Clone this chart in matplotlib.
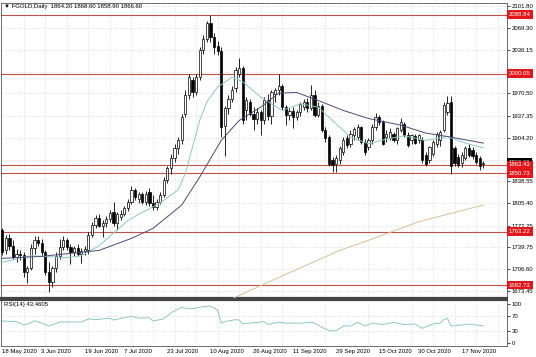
import numpy as np
import pandas as pd
import matplotlib
matplotlib.use('Agg')
import matplotlib.pyplot as plt
from matplotlib.ticker import FixedLocator
from matplotlib.transforms import ScaledTranslation, blended_transform_factory

plt.rcParams['font.family'] = ['Liberation Sans', 'DejaVu Sans']

# daily bars (broker calendar, US holidays left out)
holidays = ['2020-05-25', '2020-07-03', '2020-09-07']
dates = pd.bdate_range('2020-05-13', '2020-11-20').drop(pd.to_datetime(holidays))

opens = [1765, 1735, 1753, 1741, 1725, 1730, 1728, 1703, 1708, 1738, 1750, 1746, 1732, 1702, 1687,
         1708, 1726, 1740, 1750, 1740, 1733, 1738, 1730, 1734, 1735, 1758, 1773, 1783, 1772, 1776,
         1782, 1792, 1776, 1785, 1790, 1798, 1808, 1825, 1812, 1819, 1808, 1822, 1806, 1800, 1808,
         1818, 1840, 1858, 1874, 1888, 1900, 1940, 1968, 1990, 1973, 1995, 2036, 2053, 2076, 2055,
         2042, 2035, 1922, 1948, 1962, 1978, 2000, 2008, 1945, 1958, 1940, 1932, 1942, 1930, 1960,
         1936, 1970, 1975, 1982, 1950, 1938, 1944, 1935, 1942, 1950, 1958, 1948, 1968, 1938, 1952,
         1915, 1905, 1870, 1865, 1870, 1883, 1903, 1895, 1908, 1905, 1920, 1898, 1890, 1900, 1920,
         1935, 1928, 1905, 1903, 1910, 1901, 1915, 1925, 1908, 1900, 1906, 1900, 1900, 1878, 1870,
         1880, 1895, 1900, 1916, 1943, 1958, 1888, 1875, 1866, 1873, 1888, 1885, 1878, 1873, 1864.2]
highs = [1768, 1758, 1760, 1750, 1737, 1735, 1733, 1712, 1745, 1757, 1756, 1752, 1736, 1718, 1712,
         1732, 1752, 1756, 1754, 1745, 1742, 1744, 1738, 1742, 1762, 1778, 1788, 1790, 1780, 1786,
         1795, 1808, 1793, 1795, 1802, 1812, 1832, 1828, 1823, 1822, 1824, 1828, 1818, 1812, 1822,
         1845, 1862, 1880, 1895, 1905, 1940, 1975, 2000, 1995, 2000, 2040, 2058, 2080, 2088, 2062,
         2050, 2040, 1952, 1968, 1982, 2010, 2023, 2012, 1965, 1962, 1950, 1948, 1946, 1965, 1970,
         1976, 1978, 2000, 1985, 1953, 1948, 1950, 1945, 1958, 1962, 1963, 1983, 1975, 1958, 1955,
         1920, 1908, 1875, 1878, 1892, 1905, 1908, 1915, 1920, 1925, 1922, 1902, 1903, 1925, 1941,
         1938, 1930, 1915, 1918, 1913, 1920, 1933, 1928, 1912, 1910, 1910, 1910, 1905, 1882, 1892,
         1900, 1913, 1916, 1958, 1966, 1966, 1892, 1880, 1882, 1892, 1894, 1890, 1882, 1876, 1868.6]
lows = [1728, 1730, 1735, 1722, 1718, 1720, 1695, 1686, 1705, 1730, 1742, 1728, 1698, 1672, 1680,
        1702, 1722, 1735, 1735, 1715, 1726, 1726, 1716, 1728, 1730, 1755, 1768, 1770, 1755, 1770,
        1778, 1772, 1765, 1780, 1786, 1794, 1805, 1810, 1806, 1804, 1803, 1802, 1796, 1796, 1805,
        1815, 1836, 1850, 1868, 1880, 1895, 1935, 1962, 1965, 1968, 1990, 2030, 2048, 2048, 2030,
        2028, 1905, 1876, 1940, 1958, 1972, 1995, 1925, 1930, 1936, 1915, 1925, 1908, 1925, 1930,
        1925, 1958, 1968, 1945, 1923, 1930, 1918, 1930, 1936, 1945, 1942, 1945, 1935, 1935, 1912,
        1898, 1862, 1853, 1852, 1865, 1878, 1888, 1890, 1900, 1900, 1895, 1878, 1885, 1895, 1915,
        1923, 1893, 1898, 1900, 1898, 1895, 1912, 1905, 1890, 1895, 1894, 1896, 1866, 1862, 1866,
        1876, 1890, 1891, 1912, 1938, 1850, 1862, 1860, 1860, 1870, 1875, 1872, 1865, 1856, 1858.9]
closes = [1732, 1753, 1741, 1725, 1730, 1728, 1703, 1708, 1738, 1750, 1746, 1732, 1702, 1687, 1708,
          1726, 1740, 1750, 1740, 1733, 1738, 1730, 1734, 1737, 1758, 1773, 1783, 1772, 1776, 1782,
          1791, 1776, 1789, 1790, 1798, 1808, 1825, 1815, 1819, 1808, 1820, 1806, 1800, 1808, 1818,
          1840, 1858, 1874, 1888, 1900, 1935, 1968, 1995, 1973, 1995, 2036, 2053, 2076, 2055, 2040,
          2035, 1920, 1948, 1962, 1976, 2005, 2008, 1930, 1960, 1940, 1932, 1942, 1930, 1960, 1936,
          1972, 1975, 1982, 1950, 1938, 1944, 1935, 1942, 1955, 1958, 1948, 1968, 1938, 1952, 1915,
          1903, 1865, 1863, 1873, 1888, 1900, 1893, 1910, 1917, 1920, 1898, 1883, 1900, 1920, 1935,
          1928, 1895, 1910, 1913, 1901, 1918, 1928, 1908, 1893, 1908, 1896, 1908, 1870, 1865, 1890,
          1898, 1910, 1913, 1953, 1956, 1861, 1866, 1863, 1878, 1888, 1878, 1876, 1868, 1862, 1866.6]

# moving averages, sampled from the chart
fast_ma_dates = ['05-13', '05-26', '06-09', '06-15', '06-22', '07-02', '07-09', '07-16', '07-23',
                 '07-27', '07-29', '07-31', '08-04', '08-07', '08-13', '08-18', '08-25', '09-02',
                 '09-10', '09-17', '09-24', '09-30', '10-07', '10-14', '10-21', '10-29', '11-06',
                 '11-10', '11-13', '11-20']
fast_ma = [1717, 1727, 1724, 1727, 1742, 1780, 1792, 1806, 1826, 1850, 1890, 1930, 1958, 1980,
           1995, 1988, 1965, 1945, 1955, 1950, 1925, 1905, 1895, 1902, 1907, 1900, 1906, 1902,
           1896, 1889]
slow_ma_dates = ['05-13', '05-29', '06-22', '07-06', '07-14', '07-24', '07-31', '08-10', '08-17',
                 '08-25', '09-01', '09-09', '09-17', '09-28', '10-07', '10-20', '10-29', '11-09',
                 '11-16', '11-20']
slow_ma = [1723, 1726, 1735, 1753, 1768, 1803, 1845, 1900, 1930, 1950, 1971, 1972, 1960, 1945,
           1933, 1923, 1911, 1905, 1900, 1896]
ma200_dates = ['08-12', '08-27', '09-25', '10-07', '10-27', '11-20']
ma200 = [1660, 1687, 1735, 1750, 1778, 1803]

rsi_dates = ['05-13', '05-19', '05-21', '05-26', '05-27', '05-29', '06-02', '06-04', '06-05',
             '06-15', '06-17', '06-19', '06-25', '06-26', '07-06', '07-08', '07-13', '07-14',
             '07-17', '07-21', '07-24', '07-28', '07-30', '08-03', '08-05', '08-07', '08-10',
             '08-11', '08-14', '08-17', '08-18', '08-20', '08-26', '08-27', '09-01', '09-03',
             '09-10', '09-15', '09-16', '09-18', '09-22', '09-23', '09-24', '09-28', '09-30',
             '10-02', '10-06', '10-08', '10-13', '10-16', '10-21', '10-26', '10-28', '11-02',
             '11-04', '11-05', '11-06', '11-09', '11-12', '11-16', '11-20']
rsi_vals = [56.5, 55, 46, 52, 57, 51, 43.5, 50, 54, 54, 62, 60, 64, 59, 69, 64, 65, 56.5,
            62, 78, 92, 88, 90, 94, 95, 85, 51, 55, 60, 59, 49, 51, 55, 48, 53, 51,
            51, 53, 51, 40, 32, 30.5, 31, 43.5, 43.5, 53, 43.5, 51, 47, 53, 47, 49, 37.5, 49,
            51, 60, 63.5, 43.5, 46, 48.5, 43.46]

levels = [2088.84, 2000.05, 1863.43, 1850.73, 1763.22, 1682.73]
last_price = 1866.60

price_ticks = [2101.80, 2069.30, 2036.15, 2003.00, 1970.50, 1937.35, 1904.20, 1871.05,
               1838.55, 1805.40, 1772.25, 1739.75, 1706.60, 1673.45]
hidden_ticks = [2003.00]   # fully covered by the 2000.05 marker in the reference
rsi_ticks = [100, 70, 30, 0]
label_dates = ['2020-05-18', '2020-06-03', '2020-06-19', '2020-07-07', '2020-07-23', '2020-08-10',
               '2020-08-26', '2020-09-11', '2020-09-29', '2020-10-15', '2020-10-30', '2020-11-17']
date_labels = ['18 May 2020', '3 Jun 2020', '19 Jun 2020', '7 Jul 2020', '23 Jul 2020',
               '10 Aug 2020', '26 Aug 2020', '11 Sep 2020', '29 Sep 2020', '15 Oct 2020',
               '30 Oct 2020', '17 Nov 2020']

pos = {d.strftime('%m-%d'): i for i, d in enumerate(dates)}
x = np.arange(len(dates))
o, h, l, c = map(np.array, (opens, highs, lows, closes))

fig = plt.figure(figsize=(5.36, 3.57), dpi=100)
ax = fig.add_axes([1/536, 59/357, 506/536, 295/357])
rax = fig.add_axes([1/536, 11/357, 506/536, 46/357], sharex=ax)

fs = 4.3
grid_kw = dict(color='#c8c8c8', linestyle=(0, (1, 2)), linewidth=0.5)

# candles
up = c >= o
ax.vlines(x, l, h, color='black', lw=0.6, zorder=3)
ax.bar(x, np.maximum(np.abs(c - o), 0.8), bottom=np.minimum(o, c), width=0.62,
       color=np.where(up, 'white', 'black'), edgecolor='black', linewidth=0.5, zorder=4)

ax.plot([pos[d] for d in fast_ma_dates], fast_ma, color='#8fc6c6', lw=0.7, zorder=5)
ax.plot([pos[d] for d in slow_ma_dates], slow_ma, color='#4a4a7a', lw=0.7, zorder=5)
ax.plot([pos[d] for d in ma200_dates], ma200, color='#d9bf98', lw=0.7, zorder=5)

for lv in levels:
    ax.axhline(lv, color='#c0504a', lw=0.8, zorder=2)

ax.set_xlim(-0.34, 140.6)
ax.set_ylim(1663.5, 2106.3)
ax.yaxis.tick_right()
ax.set_yticks(price_ticks)
ax.set_yticklabels(['' if t in hidden_ticks else f'{t:.2f}' for t in price_ticks], fontsize=fs)
ax.tick_params(axis='y', length=2, width=0.5, pad=1.5)
ax.tick_params(axis='x', which='both', length=0, labelbottom=False)
ax.xaxis.set_minor_locator(FixedLocator(np.arange(6, 141, 6)))
ax.grid(axis='y', which='major', **grid_kw)
ax.grid(axis='x', which='minor', **grid_kw)

trans = blended_transform_factory(ax.transAxes, ax.transData)
box_kw = dict(transform=trans, ha='left', va='center', fontsize=fs, color='white', clip_on=False)
ax.text(1.004, last_price, f'{last_price:.2f}',
        bbox=dict(boxstyle='square,pad=0.3', fc='black', ec='none'), zorder=6, **box_kw)
for lv in levels:
    ax.text(1.004, lv, f'{lv:.2f}',
            bbox=dict(boxstyle='square,pad=0.3', fc='#e3161b', ec='none'), zorder=7, **box_kw)

ax.text(0.006, 0.997, '\u25bc FGOLD,Daily  1864.20 1868.60 1858.90 1866.60',
        transform=ax.transAxes, va='top', ha='left', fontsize=fs)

# RSI pane
rax.plot([pos[d] for d in rsi_dates], rsi_vals, color='#8fc6c6', lw=0.7)
rax.set_ylim(-8.6, 111.2)
rax.yaxis.tick_right()
rax.set_yticks(rsi_ticks)
rax.set_yticklabels([str(t) for t in rsi_ticks], fontsize=fs)
rax.tick_params(axis='y', length=2, width=0.5, pad=1.5)
for lv in (70, 30):
    rax.axhline(lv, **grid_kw)
rax.grid(axis='x', which='minor', **grid_kw)
rax.text(0.006, 0.95, 'RSI(14) 43.4605', transform=rax.transAxes, va='top', ha='left', fontsize=fs)

rax.set_xticks([pos[d[5:]] for d in label_dates])
rax.set_xticklabels(date_labels, fontsize=fs)
rax.tick_params(axis='x', which='both', length=0, pad=2)
shift = ScaledTranslation(-11 / 100, 0, fig.dpi_scale_trans)
for lab in rax.get_xticklabels():
    lab.set_ha('left')
    lab.set_transform(lab.get_transform() + shift)

for a in (ax, rax):
    for s in a.spines.values():
        s.set_color('#555555')
        s.set_linewidth(0.6)
ax.spines['bottom'].set_linewidth(1.6)
ax.spines['bottom'].set_color('#444444')
rax.spines['top'].set_linewidth(1.6)
rax.spines['top'].set_color('#444444')

fig.savefig('out.png', dpi=100, facecolor='white')
